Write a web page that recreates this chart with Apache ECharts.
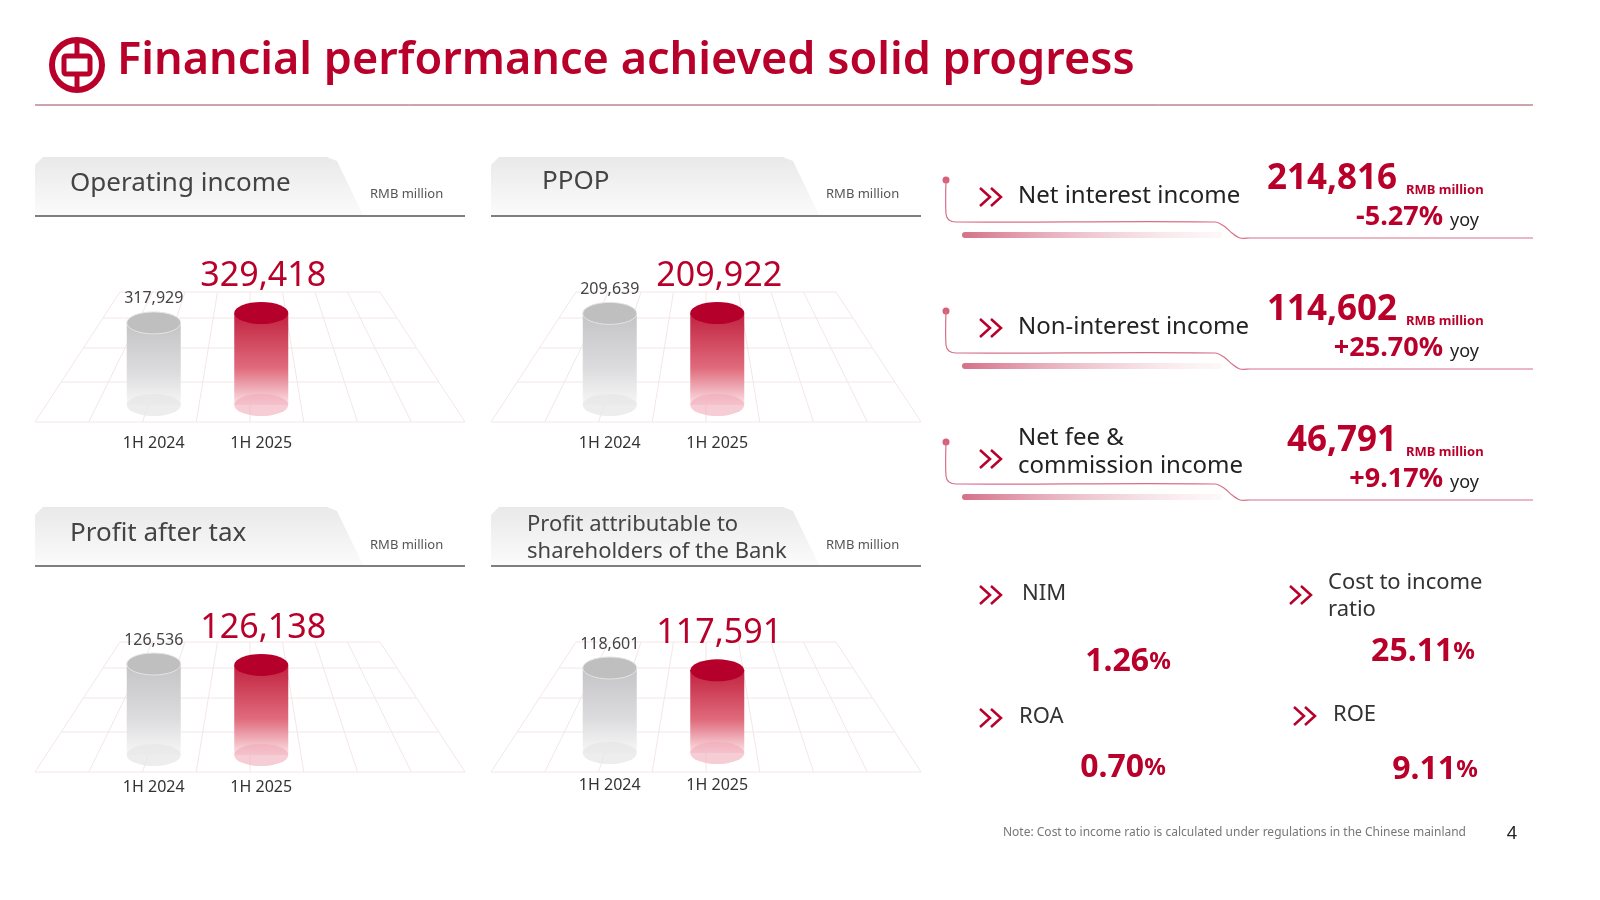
<!DOCTYPE html>
<html><head><meta charset="utf-8">
<script src="https://cdn.jsdelivr.net/npm/echarts@6/dist/echarts.min.js"></script>
<style>html,body{margin:0;padding:0;background:#fff}#c{width:1600px;height:900px}</style>
</head><body><div id="c"></div>
<script>
const categories = ['1H 2024', '1H 2025'];
const panelTitles = ['Operating income', 'PPOP', 'Profit after tax', 'Profit attributable to\nshareholders of the Bank'];
const operatingIncome = [317929, 329418];
const ppop = [209639, 209922];
const profitAfterTax = [126536, 126138];
const profitAttributable = [118601, 117591];
const kpiNames = ['Net interest income', 'Non-interest income', 'Net fee &\ncommission income'];
const kpiValues = [214816, 114602, 46791];
const kpiYoy = ['-5.27%', '+25.70%', '+9.17%'];
const ratioNames = ['NIM', 'Cost to income\nratio', 'ROA', 'ROE'];
const ratioValues = ['1.26', '25.11', '0.70', '9.11'];

const RED = '#b8002a';
const FONT = 'Noto Sans';
const seriesData = [operatingIncome, ppop, profitAfterTax, profitAttributable];
const panels = [
  {x: 35, y: 0, top: 313, bottom: 405},
  {x: 491, y: 0, top: 313, bottom: 405},
  {x: 35, y: 350, top: 664, bottom: 755},
  {x: 491, y: 350, top: 668, bottom: 753}
];
const fmt = v => v.toLocaleString('en-US');

const grids = [], xAxes = [], yAxes = [], series = [], graphic = [];

graphic.push(
  {type:'circle', shape:{cx:77, cy:65, r:25}, style:{fill:'none', stroke:RED, lineWidth:6}},
  {type:'rect', shape:{x:64, y:56, width:26, height:18, r:2}, style:{fill:'none', stroke:RED, lineWidth:5}},
  {type:'line', shape:{x1:77, y1:40, x2:77, y2:56}, style:{stroke:RED, lineWidth:5}},
  {type:'line', shape:{x1:77, y1:74, x2:77, y2:90}, style:{stroke:RED, lineWidth:5}},
  {type:'text', x:117, y:61, style:{text:'Financial performance achieved solid progress', fill:RED, font:'600 45px "Noto Sans"', verticalAlign:'middle'}},
  {type:'line', shape:{x1:35, y1:105, x2:1533, y2:105}, style:{stroke:'#9a4a5a', lineWidth:1}}
);

panels.forEach((p, i) => {
  const vals = seriesData[i];
  const vmin = Math.min(...vals) * 0.7;
  const vmax = Math.max(...vals);
  const hy = 157 + p.y;
  graphic.push({type:'polygon', shape:{points:[[p.x,hy+8],[p.x+8,hy],[p.x+292,hy],[p.x+302,hy+4],[p.x+328,hy+58],[p.x,hy+58]]},
    style:{fill:{type:'linear',x:0,y:0,x2:0,y2:1,colorStops:[{offset:0,color:'#e9e9e9'},{offset:1,color:'#fbfbfb'}]}}});
  graphic.push({type:'line', shape:{x1:p.x, y1:hy+59, x2:p.x+430, y2:hy+59}, style:{stroke:'#555', lineWidth:1.5}});
  const multi = panelTitles[i].includes('\n');
  graphic.push({type:'text', x:p.x + (multi ? 36 : (i===1?51:35)), y:hy + (multi?31:(i===1?25:27)), style:{text:panelTitles[i], fill:'#444', font:(multi?'22px':'26px')+' "Noto Sans"', verticalAlign:'middle', lineHeight:27}});
  graphic.push({type:'text', x:p.x+335, y:hy+(i<2?37:38), style:{text:'RMB million', fill:'#555', font:'13px "Noto Sans"', verticalAlign:'middle'}});
  const fy = [p.y+292, p.y+318, p.y+348, p.y+382, p.y+422];
  const topL = p.x+85, topR = p.x+345, botL = p.x, botR = p.x+430;
  fy.forEach(y => {
    const t = (y - fy[0]) / (fy[4] - fy[0]);
    graphic.push({type:'line', shape:{x1:topL+(botL-topL)*t, y1:y, x2:topR+(botR-topR)*t, y2:y}, style:{stroke:'#f3e6e9', lineWidth:1}});
  });
  for (let k = 0; k <= 8; k++) {
    const f = k/8;
    graphic.push({type:'line', shape:{x1:topL+(topR-topL)*f, y1:fy[0], x2:botL+(botR-botL)*f, y2:fy[4]}, style:{stroke:'#f3e6e9', lineWidth:1}});
  }
  grids.push({left:p.x+65, width:215, top:p.top, height:p.bottom-p.top});
  xAxes.push({type:'category', gridIndex:i, data:categories, axisLine:{show:false}, axisTick:{show:false},
    axisLabel:{margin:p.y?24:30, color:'#333', fontSize:16, fontFamily:FONT}});
  yAxes.push({type:'value', gridIndex:i, min:vmin, max:vmax, show:false, splitLine:{show:false}});
  series.push({type:'custom', xAxisIndex:i, yAxisIndex:i, data:vals.map((v,j)=>[j,v]), z:10,
    renderItem:(params, api) => {
      const j = api.value(0), v = api.value(1);
      const top = api.coord([j, v]), bot = api.coord([j, vmin]);
      const cx = top[0], rx = 27, ry = 11;
      const red = j === 1;
      const ell = (cy, fill, stroke) => ({type:'path', shape:{pathData:`M0 ${ry} A${rx} ${ry} 0 1 0 ${2*rx} ${ry} A${rx} ${ry} 0 1 0 0 ${ry} Z`, x:cx-rx, y:cy-ry, width:2*rx, height:2*ry}, style:{fill, stroke:stroke||null, lineWidth:1}});
      const bodyFill = {type:'linear', x:0, y:0, x2:0, y2:1, colorStops: red ?
        [{offset:0,color:'#c1223f'},{offset:0.6,color:'#e06b7c'},{offset:1,color:'#fbe3e7'}] :
        [{offset:0,color:'#c4c4c6'},{offset:0.6,color:'#dcdcde'},{offset:1,color:'#f7f7f7'}]};
      const children = [
        {type:'rect', shape:{x:cx-rx, y:top[1], width:2*rx, height:bot[1]-top[1]}, style:{fill:bodyFill}},
        ell(bot[1], red ? 'rgba(240,170,185,0.6)' : 'rgba(230,230,230,0.7)'),
        ell(top[1], red ? '#b5002b' : '#bfbfbf', red ? null : '#e4e4e4'),
        red ? {type:'text', x:cx+2, y:top[1]-20, style:{text:fmt(v), fill:RED, font:'34px "Noto Sans"', align:'center', verticalAlign:'bottom'}}
            : {type:'text', x:cx, y:top[1]-16, style:{text:fmt(v), fill:'#444', font:'16px "Noto Sans"', align:'center', verticalAlign:'bottom'}}
      ];
      return {type:'group', children};
    }});
});

function chev(x, y) {
  return {type:'group', x, y, children:[
    {type:'polyline', shape:{points:[[0,-9],[10,0],[0,9]]}, style:{stroke:RED, lineWidth:2.5, fill:null}},
    {type:'polyline', shape:{points:[[11,-9],[21,0],[11,9]]}, style:{stroke:RED, lineWidth:2.5, fill:null}}
  ]};
}

kpiNames.forEach((name, i) => {
  const oy = i * 131;
  graphic.push({type:'circle', shape:{cx:946, cy:180+oy, r:3.5}, style:{fill:'#d6607a'}});
  graphic.push({type:'polyline', shape:{smooth:0.3, points:[[946,180+oy],[946,214+oy],[949,220+oy],[956,222+oy],[1215,222+oy],[1224,226+oy],[1232,233+oy],[1240,238+oy],[1250,238+oy],[1533,238+oy]]}, style:{stroke:'#d8708a', lineWidth:1.2, fill:null}});
  graphic.push({type:'rect', shape:{x:962, y:232+oy, width:260, height:6, r:3}, style:{fill:{type:'linear',x:0,y:0,x2:1,y2:0,colorStops:[{offset:0,color:'#d57088'},{offset:1,color:'rgba(245,220,226,0.2)'}]}}});
  graphic.push(chev(980, 197+oy));
  graphic.push({type:'text', x:1018, y:(i===2?452:196+oy), style:{text:name, fill:'#222', font:'24px "Noto Sans"', verticalAlign:'middle', lineHeight:28}});
  graphic.push({type:'text', x:1397, y:179+oy, style:{text:fmt(kpiValues[i]), fill:RED, font:'bold 35px "Noto Sans"', align:'right', verticalAlign:'middle'}});
  graphic.push({type:'text', x:1406, y:190+oy, style:{text:'RMB million', fill:RED, font:'bold 13px "Noto Sans"', verticalAlign:'middle'}});
  graphic.push({type:'text', x:1443, y:217+oy, style:{text:kpiYoy[i], fill:RED, font:'bold 27px "Noto Sans"', align:'right', verticalAlign:'middle'}});
  graphic.push({type:'text', x:1450, y:221+oy, style:{text:'yoy', fill:'#222', font:'18px "Noto Sans"', verticalAlign:'middle'}});
});

const rpos = [[980,595,1128,662],[1290,595,1423,652],[980,718,1123,768],[1294,716,1435,770]];
ratioNames.forEach((n, i) => {
  const [ix, iy, vx, vy] = rpos[i];
  graphic.push(chev(ix, iy));
  graphic.push({type:'text', x:ix+(i===1?38:(i===0?42:39)), y:i===1?596:iy-1, style:{text:n, fill:'#333', font:'22px "Noto Sans"', verticalAlign:'middle', lineHeight:27}});
  graphic.push({type:'text', x:vx, y:vy, style:{text:`{a|${ratioValues[i]}}{b|%}`, align:'center', verticalAlign:'middle',
    rich:{a:{fill:RED, fontSize:32, fontWeight:'bold', fontFamily:FONT}, b:{fill:RED, fontSize:24, fontWeight:'bold', fontFamily:FONT}}}});
});

graphic.push({type:'text', x:1466, y:833, style:{text:'Note: Cost to income ratio is calculated under regulations in the Chinese mainland', fill:'#777', font:'12px "Noto Sans"', align:'right', verticalAlign:'middle'}});
graphic.push({type:'text', x:1512, y:834, style:{text:'4', fill:'#222', font:'18px "Noto Sans"', align:'center', verticalAlign:'middle'}});

const chart = echarts.init(document.getElementById('c'));
chart.setOption({animation:false, grid:grids, xAxis:xAxes, yAxis:yAxes, series, graphic:{elements:graphic}});
</script></body></html>
